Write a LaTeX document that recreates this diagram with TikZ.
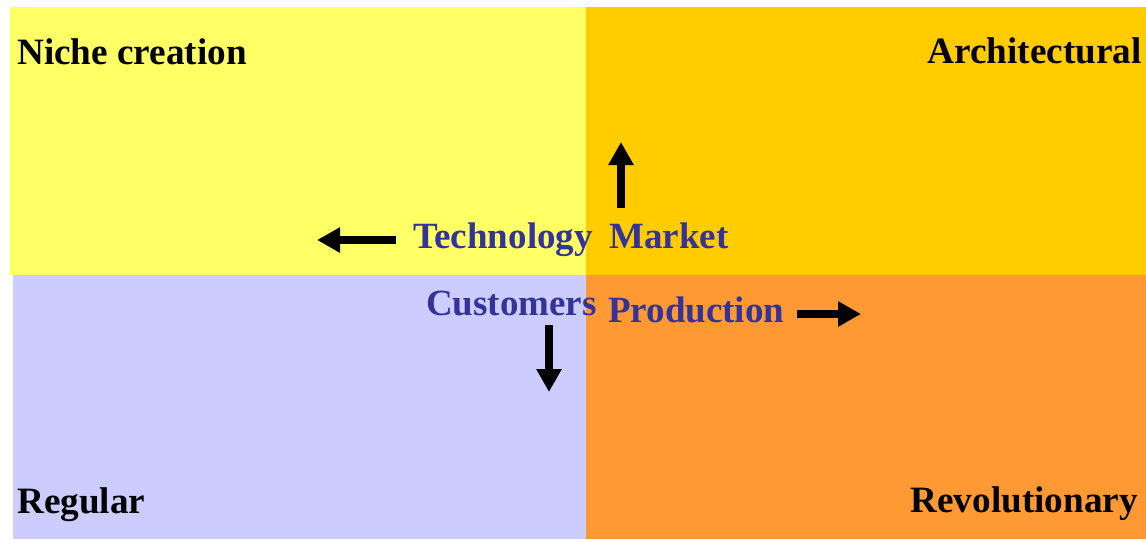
\documentclass[tikz,border=0pt]{standalone}
\usepackage{fontspec}
\setmainfont{Liberation Serif}
\usetikzlibrary{arrows.meta}
\definecolor{qyellow}{HTML}{FFFF66}
\definecolor{qgold}{HTML}{FFCC00}
\definecolor{qlav}{HTML}{CCCCFF}
\definecolor{qorange}{HTML}{FF9933}
\definecolor{qblue}{HTML}{333399}
\tikzset{
  title/.style={inner sep=0pt, font=\fontsize{37.2}{40}\selectfont\bfseries, text=black},
  dim/.style={inner sep=0pt, font=\fontsize{37}{40}\selectfont\bfseries, text=qblue},
  bigarrow/.style={line width=8pt, -{Triangle[length=23pt,width=24pt]}}
}
\begin{document}
\begin{tikzpicture}[x=1pt,y=-1pt]
\useasboundingbox (0,0) rectangle (1146,539);
% quadrants
\fill[qyellow] (10,7) rectangle (586,275);
\fill[qgold] (586,7) rectangle (1146,275);
\fill[qlav] (13,275) rectangle (586,539);
\fill[qorange] (586,275) rectangle (1146,539);
% corner titles
\node[title, anchor=base west] (niche) at (17,64) {Niche creation};
\node[title, anchor=base east] (arch) at (1142,63) {Architectural};
\node[title, anchor=base west] (reg) at (17,513) {Regular};
\node[title, anchor=base east] (rev) at (1138,512) {Revolutionary};
% dimension labels
\node[dim, anchor=base west] (tech) at (413,248) {Technology};
\node[dim, anchor=base west] (market) at (609,248) {Market};
\node[dim, anchor=base west] (cust) at (426,315) {Customers};
\node[dim, anchor=base west] (prod) at (608,322) {Production};
% arrow ends
\coordinate (techS) at (396,240);
\coordinate (techE) at (317,240);
\coordinate (markS) at (621,208);
\coordinate (markE) at (621,142);
\coordinate (custS) at (549,325);
\coordinate (custE) at (549,392);
\coordinate (prodS) at (797,314);
\coordinate (prodE) at (861,314);
\draw[bigarrow] (techS) -- (techE);
\draw[bigarrow] (markS) -- (markE);
\draw[bigarrow] (custS) -- (custE);
\draw[bigarrow] (prodS) -- (prodE);
\end{tikzpicture}
\end{document}
